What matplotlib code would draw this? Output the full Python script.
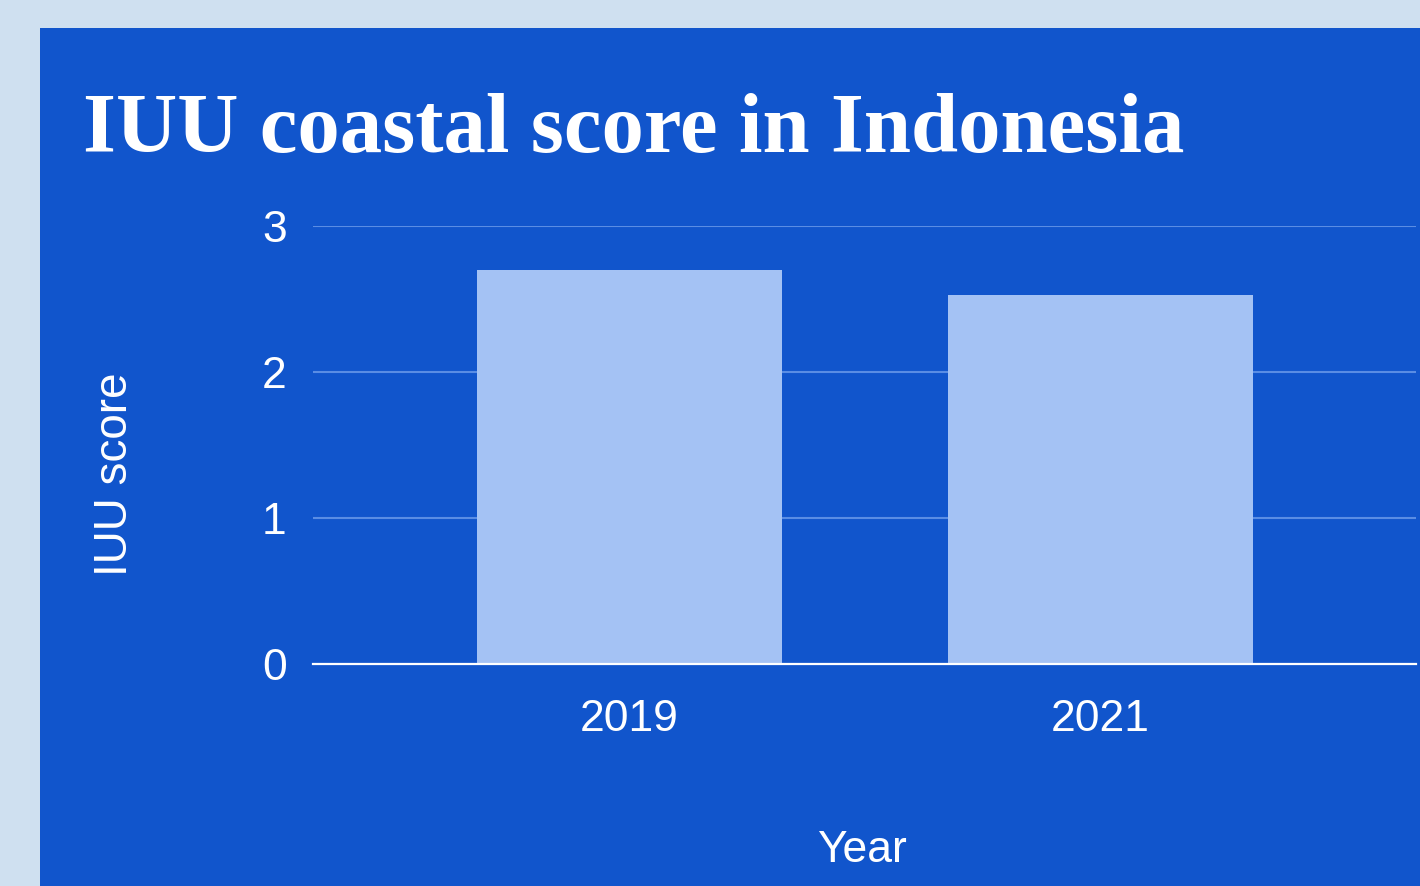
import numpy as np
import matplotlib

matplotlib.use("Agg")
import matplotlib.pyplot as plt
from matplotlib.patches import Rectangle

# data
years = ["2019", "2021"]
scores = [2.70, 2.53]
y_ticks = [0, 1, 2, 3]

PANEL_BLUE = "#1155cc"
BAR_COLOR = "#a4c2f4"
GRID_COLOR = "#5a8de4"
OUTER_BG = "#cfe0f0"
SANS = "Liberation Sans"

W, H = 1420, 886
fig = plt.figure(figsize=(W / 100, H / 100), dpi=100)
fig.patch.set_facecolor(OUTER_BG)

# blue chart panel, drawn behind the axes
fig.patches.append(
    Rectangle((40 / W, 0), 1 - 40 / W, 1 - 28 / H,
              transform=fig.transFigure, facecolor=PANEL_BLUE,
              edgecolor="none", zorder=-10)
)

ax = fig.add_axes([313 / W, (H - 664) / H, (1416 - 313) / W, (664 - 226) / H])
ax.set_facecolor("none")

x = np.arange(len(years))
ax.bar(x, scores, width=0.648, color=BAR_COLOR, zorder=3)

ax.set_xlim(-0.672, 1.670)
ax.set_ylim(0, 3)
ax.set_yticks(y_ticks)
ax.set_xticks(x)
ax.set_xticklabels(years)

ax.grid(axis="y", color=GRID_COLOR, linewidth=1.5, zorder=1)
ax.set_axisbelow(True)
for side in ["top", "right", "left"]:
    ax.spines[side].set_visible(False)
ax.spines["bottom"].set_color("white")
ax.spines["bottom"].set_linewidth(1.6)
ax.spines["bottom"].set_zorder(4)

ax.tick_params(axis="both", length=0, colors="white", labelsize=32)
ax.tick_params(axis="y", pad=19)
ax.tick_params(axis="x", pad=25)
for lab in ax.get_xticklabels() + ax.get_yticklabels():
    lab.set_family(SANS)

# axis titles
fig.text(861.5 / W, 1 - 862 / H, "Year", color="white", fontsize=32,
         family=SANS, ha="center", va="baseline")
fig.text(127 / W, 1 - 474 / H, "IUU score", color="white", fontsize=33,
         family=SANS, rotation=90, rotation_mode="anchor",
         ha="center", va="baseline")

fig.text(83 / W, 1 - 152 / H, "IUU coastal score in Indonesia",
         color="white", fontsize=61, fontweight="bold",
         family="Liberation Serif", ha="left", va="baseline")

fig.savefig("out.png", dpi=100, facecolor=fig.get_facecolor())
